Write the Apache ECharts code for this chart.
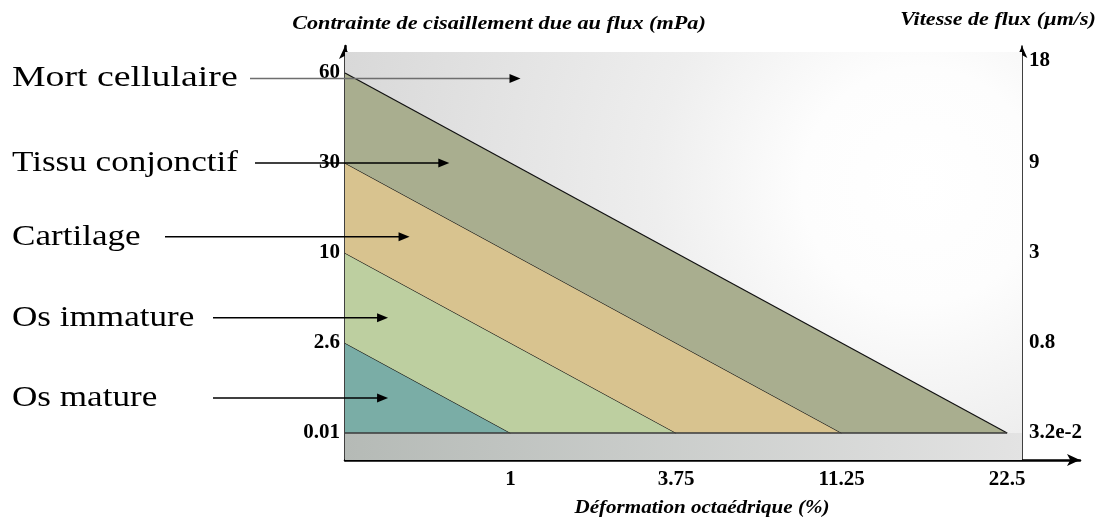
<!DOCTYPE html>
<html><head><meta charset="utf-8">
<script src="https://cdn.jsdelivr.net/npm/echarts@6/dist/echarts.min.js"></script>
<style>html,body{margin:0;padding:0;background:#fff}#c{width:1103px;height:522px}</style>
</head><body><div id="c"></div>
<script>
// ---- data ----
const tissues = ['Os mature', 'Os immature', 'Cartilage', 'Tissu conjonctif', 'Mort cellulaire'];
const shearTicks = ['0.01', '2.6', '10', '30', '60'];          // mPa (left axis levels)
const velocityTicks = ['3.2e-2', '0.8', '3', '9', '18'];       // µm/s (right axis levels)
const strainTicks = ['0', '1', '3.75', '11.25', '22.5'];       // % (x axis levels)

// ---- layout (annotation placement, in axis level units / pixels) ----
const arrowLayout = [
  { lvl: 0.39, endX: 0.26, startPx: 213 },
  { lvl: 1.28, endX: 0.26, startPx: 213 },
  { lvl: 2.18, endX: 0.39, startPx: 165 },
  { lvl: 3.00, endX: 0.63, startPx: 255 },
  { lvl: 3.94, endX: 1.06, startPx: 250 }
];
const zoneColors = ['#7aada6', '#bdcfa0', '#d8c38f', '#a9ae8f'];
const SERIF = '"Liberation Serif", "Times New Roman", serif';
const RIGHT_AXIS_OFFSET = -58;
const Y_MIN = -0.3, Y_MAX = 4.3, X_MAX = 4.44;

const chart = echarts.init(document.getElementById('c'), null, { renderer: 'canvas' });

function frameRender(params, api) {
  const cs = params.coordSys;
  const rightX = cs.x + cs.width + RIGHT_AXIS_OFFSET;
  const topY = cs.y + 6;
  const base = api.coord([0, 0]);
  const bottomY = cs.y + cs.height;
  return {
    type: 'group',
    children: [
      { type: 'rect', shape: { x: cs.x, y: topY, width: rightX - cs.x, height: base[1] - topY },
        style: { fill: new echarts.graphic.RadialGradient(0.85, 0.35, 1.55, [
          { offset: 0, color: '#ffffff' }, { offset: 0.2, color: '#fdfdfd' },
          { offset: 0.45, color: '#eeeeee' }, { offset: 0.75, color: '#e2e2e2' },
          { offset: 1, color: '#d8d8d8' }]) } },
      { type: 'rect', shape: { x: cs.x, y: base[1], width: rightX - cs.x, height: bottomY - base[1] },
        style: { fill: new echarts.graphic.LinearGradient(0, 0, 1, 0, [
          { offset: 0, color: '#b5bab6' }, { offset: 1, color: '#e3e3e3' }]) } }
    ]
  };
}

function zoneRender(params, api) {
  const i = params.dataIndex;
  const P = (x, y) => api.coord([x, y]);
  const pts = i === 0 ? [P(0, 0), P(1, 0), P(0, 1)]
                      : [P(0, i), P(i, 0), P(i + 1, 0), P(0, i + 1)];
  const a = P(0, i + 1), b = P(i + 1, 0);
  const children = [
    { type: 'polygon', shape: { points: pts }, style: { fill: zoneColors[i] } },
    { type: 'line', shape: { x1: a[0], y1: a[1], x2: b[0], y2: b[1] }, style: { stroke: '#111', lineWidth: 1.2 } }
  ];
  if (i === 3) {
    const l = P(0, 0), r = P(4, 0);
    children.push({ type: 'line', shape: { x1: l[0], y1: l[1], x2: r[0], y2: r[1] },
      style: { stroke: '#3a3a3a', lineWidth: 1.6 } });
  }
  return { type: 'group', children };
}

function annotRender(params, api) {
  const i = params.dataIndex;
  const L = arrowLayout[i];
  const tip = api.coord([L.endX, L.lvl]);
  const y = tip[1];
  const isTop = i === tissues.length - 1;
  return {
    type: 'group',
    children: [
      { type: 'text', x: 12, y: y, scaleX: isTop ? 1.26 : 1.17,
        style: { text: tissues[i], fontSize: 30, fontFamily: SERIF, fill: '#000',
          align: 'left', verticalAlign: 'middle', textAlign: 'left', textVerticalAlign: 'middle' } },
      { type: 'line', shape: { x1: L.startPx, y1: y, x2: tip[0] - 8, y2: y },
        style: { stroke: isTop ? '#6e6e6e' : '#000', lineWidth: 1.5 } },
      { type: 'polygon', shape: { points: [[tip[0], y], [tip[0] - 11, y - 4.5], [tip[0] - 11, y + 4.5]] },
        style: { fill: '#000' } }
    ]
  };
}

const tickLabel = { fontFamily: SERIF, fontWeight: 'bold', fontSize: 21, color: '#000' };

const option = {
  animation: false,
  backgroundColor: '#ffffff',
  grid: { left: 345, right: 23, top: 46, bottom: 62 },
  xAxis: {
    type: 'value', min: 0, max: X_MAX,
    axisLine: { show: true, onZero: false, lineStyle: { color: '#000', width: 2.5 },
      symbol: ['none', 'arrow'], symbolSize: [9, 13] },
    axisTick: { show: false }, splitLine: { show: false },
    axisLabel: Object.assign({ customValues: [1, 2, 3, 4], margin: 9,
      formatter: v => strainTicks[Math.round(v)] || '' }, tickLabel)
  },
  yAxis: [
    { type: 'value', min: Y_MIN, max: Y_MAX, position: 'left',
      axisLine: { show: true, onZero: false, lineStyle: { color: '#000', width: 2.5 },
        symbol: ['none', 'arrow'], symbolSize: [9, 13] },
      axisTick: { show: false }, splitLine: { show: false },
      axisLabel: Object.assign({ customValues: [0, 1, 2, 3, 4], margin: 5,
        formatter: v => shearTicks[Math.round(v)] || '' }, tickLabel) },
    { type: 'value', min: Y_MIN, max: Y_MAX, position: 'right', offset: RIGHT_AXIS_OFFSET,
      axisLine: { show: true, onZero: false, lineStyle: { color: '#000', width: 1.5 },
        symbol: ['none', 'arrow'], symbolSize: [8, 12] },
      axisTick: { show: false }, splitLine: { show: false },
      axisLabel: Object.assign({ customValues: [0, 1, 2, 3, 4], margin: 7,
        formatter: v => {
          const k = Math.round(v);
          const t = velocityTicks[k] || '';
          return k === velocityTicks.length - 1 ? '{top|' + t + '}' : t;
        },
        rich: { top: { fontFamily: SERIF, fontWeight: 'bold', fontSize: 21, color: '#000', padding: [0, 0, 24, 0] } }
      }, tickLabel) }
  ],
  graphic: [
    { type: 'text', x: 499, y: 24, scaleX: 1.17, z: 10,
      style: { text: 'Contrainte de cisaillement due au flux (mPa)', font: 'italic bold 19px ' + SERIF,
        fill: '#000', align: 'center', verticalAlign: 'middle', textAlign: 'center', textVerticalAlign: 'middle' } },
    { type: 'text', x: 998, y: 20, scaleX: 1.16, z: 10,
      style: { text: 'Vitesse de flux (µm/s)', font: 'italic bold 19px ' + SERIF,
        fill: '#000', align: 'center', verticalAlign: 'middle', textAlign: 'center', textVerticalAlign: 'middle' } },
    { type: 'text', x: 702, y: 508, scaleX: 1.17, z: 10,
      style: { text: 'Déformation octaédrique (%)', font: 'italic bold 18px ' + SERIF,
        fill: '#000', align: 'center', verticalAlign: 'middle', textAlign: 'center', textVerticalAlign: 'middle' } }
  ],
  series: [
    { type: 'custom', name: 'Mort cellulaire', coordinateSystem: 'cartesian2d', clip: false, z: 1,
      data: [[0, 0]], encode: { x: 0, y: 1 }, renderItem: frameRender, silent: true },
    { type: 'custom', name: 'zones', coordinateSystem: 'cartesian2d', clip: false, z: 2,
      data: tissues.slice(0, 4).map((_, i) => [i, i]), encode: { x: 0, y: 1 },
      renderItem: zoneRender, silent: true },
    { type: 'custom', name: 'labels', coordinateSystem: 'cartesian2d', clip: false, z: 5,
      data: tissues.map((_, i) => [i, i]), encode: { x: 0, y: 1 },
      renderItem: annotRender, silent: true }
  ]
};
chart.setOption(option);
</script>
</body></html>
